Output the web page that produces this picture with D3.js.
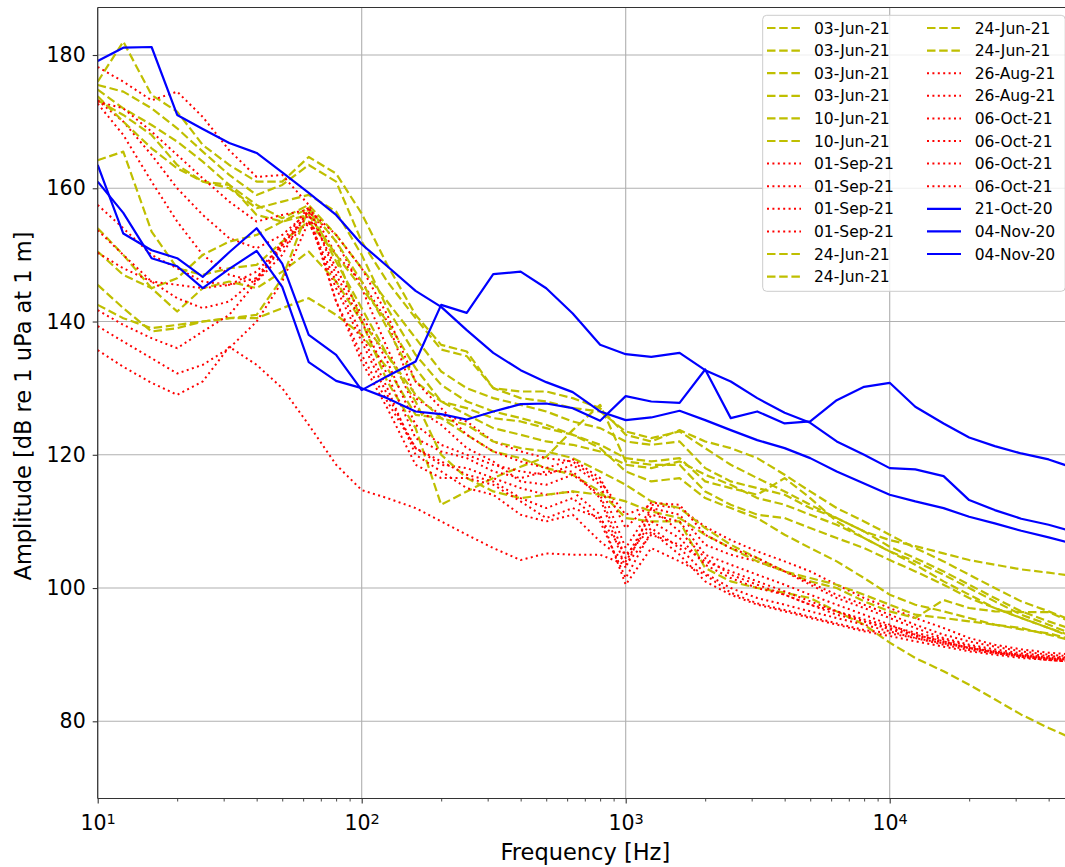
<!DOCTYPE html>
<html>
<head>
<meta charset="utf-8">
<script src="https://cdn.jsdelivr.net/npm/d3@7"></script>
<style>
  body { margin: 0; background: #fff; }
  svg { display: block; }
  text { font-family: "DejaVu Sans", sans-serif; fill: #000; }
</style>
</head>
<body>
<svg id="chart" width="1065" height="867"></svg>
<script>
// One-third-octave band centre frequencies [Hz]
const freqs = [10, 12.5, 16, 20, 25, 31.5, 40, 50, 63, 80, 100, 125, 160, 200, 250, 315, 400, 500, 630, 800,
  1000, 1250, 1600, 2000, 2500, 3150, 4000, 5000, 6300, 8000, 10000, 12500, 16000, 20000, 25000, 31500, 40000, 50000];

// Band levels, dB re 1 uPa at 1 m
const jun03a = [176.0,182.0,174.0,171.5,166.5,163.5,161.0,161.0,164.7,162.2,156.2,148.5,141.0,136.5,135.5,130.0,128.5,128.0,127.0,126.5,123.5,122.5,123.5,121.0,118.5,116.5,114.5,112.5,110.5,108.5,107.2,106.3,105.2,104.2,103.5,102.8,102.3,101.8];
const jun03b = [175.5,174.5,172.0,169.0,165.5,162.0,159.0,160.5,163.5,161.0,152.0,146.0,140.5,135.8,134.8,130.0,129.5,129.5,128.5,127.0,123.0,122.0,123.7,122.0,121.0,119.5,117.0,114.5,112.0,110.0,108.0,106.0,104.0,102.0,100.0,98.0,96.5,95.0];
const jun03c = [174.8,172.0,169.5,167.0,164.0,160.5,157.5,155.5,157.5,153.0,148.0,143.0,137.5,132.5,130.0,128.5,127.5,126.5,125.0,124.0,122.0,121.5,122.0,118.0,116.0,115.0,114.0,112.0,110.5,108.5,106.2,104.5,102.5,100.5,98.5,96.5,95.0,93.7];
const jun03d = [173.2,171.0,168.0,163.5,161.0,160.0,157.0,158.0,159.0,156.5,150.0,142.0,135.0,130.5,128.0,126.5,125.5,124.5,123.0,121.5,119.5,119.0,119.5,116.0,115.0,114.0,116.5,113.5,110.0,107.5,105.5,104.0,102.0,100.0,98.0,96.0,94.5,93.0];
const jun10a = [164.2,165.5,153.5,148.0,147.0,148.0,148.5,152.0,155.0,150.0,140.0,131.0,124.0,112.5,114.5,116.5,118.2,119.7,123.7,127.5,119.0,118.5,118.5,114.5,112.5,111.0,110.5,109.0,107.5,106.0,104.2,102.5,100.5,98.5,97.0,95.5,94.0,92.5];
const jun10b = [145.5,142.0,138.5,139.0,140.0,140.5,140.5,142.0,143.5,141.0,138.0,133.0,126.0,125.5,123.0,120.5,119.5,118.0,117.0,114.5,110.5,110.0,110.0,103.0,101.0,100.0,99.3,98.5,96.5,94.5,91.8,89.5,87.5,85.5,83.3,81.0,79.0,77.3];
const sep01a = [178.2,176.0,173.2,174.5,170.7,165.7,161.7,162.0,157.5,150.0,146.0,140.0,128.5,126.0,125.0,122.0,120.5,119.5,119.0,116.0,111.0,112.5,112.0,109.2,107.2,105.5,104.0,102.5,100.5,98.5,97.0,95.5,94.0,92.5,91.5,90.8,90.3,90.0];
const sep01b = [173.2,170.0,165.0,160.0,156.0,152.5,151.0,153.0,156.5,148.0,141.0,134.0,124.5,121.5,120.0,118.5,117.5,117.0,118.5,115.5,106.0,112.0,111.0,106.5,105.0,104.0,102.5,100.5,98.5,97.0,95.5,94.0,92.5,91.5,90.8,90.2,89.8,89.5];
const sep01c = [172.7,168.0,161.0,155.0,150.0,147.0,146.0,150.0,157.0,152.0,145.0,136.0,127.0,124.5,121.0,119.0,116.0,115.5,117.0,114.0,104.5,111.0,110.0,105.0,103.5,102.0,100.5,99.0,97.5,96.0,94.5,93.0,92.0,91.0,90.3,89.8,89.4,89.2];
const sep01d = [157.5,154.0,150.0,148.0,146.0,145.5,146.5,151.0,155.0,145.0,137.0,129.0,121.0,118.5,118.0,116.5,115.0,114.0,114.5,111.0,100.5,106.0,104.0,102.0,99.3,97.7,96.7,95.7,94.7,93.7,93.2,92.5,91.5,90.7,90.2,89.7,89.2,89.0];
const jun24a = [154.0,150.0,145.0,141.5,145.0,146.0,145.0,147.5,150.5,146.0,140.0,135.0,129.0,125.5,124.5,122.0,121.0,120.5,119.5,117.5,115.5,113.0,112.0,109.0,106.5,104.5,102.5,101.0,100.0,98.0,96.5,95.5,98.2,97.0,96.5,96.4,96.4,94.7];
const jun24b = [150.5,147.0,145.0,146.5,150.0,152.0,153.0,155.0,157.0,152.0,146.0,139.0,131.0,128.0,127.0,125.5,125.0,124.0,123.0,121.0,117.5,116.0,116.5,113.5,112.0,110.5,108.0,106.0,104.0,101.5,99.0,97.5,96.5,95.5,94.5,93.8,93.2,92.2];
const jun24c = [173.8,170.0,166.0,163.0,161.0,160.5,156.0,155.0,156.0,150.0,145.0,140.0,133.0,128.0,126.0,124.0,123.0,122.0,121.5,120.5,118.5,118.0,119.0,117.0,115.5,113.5,112.5,111.0,109.5,107.5,105.5,103.5,101.0,99.0,97.0,95.5,94.0,92.7];
const jun24d = [142.5,140.5,139.0,139.5,140.0,140.5,141.0,146.5,157.0,149.0,142.0,135.0,128.0,120.0,116.5,114.5,113.5,114.0,114.5,114.0,113.0,111.5,110.5,108.0,106.0,104.0,102.5,101.5,100.5,99.0,97.5,96.0,95.5,95.0,94.5,94.0,93.0,92.0];
const aug26a = [153.7,150.0,146.0,143.5,142.0,143.0,146.5,152.0,157.2,147.0,140.0,132.0,122.5,120.5,119.5,117.5,116.5,117.5,117.5,113.5,103.0,112.0,108.5,104.5,102.0,100.5,99.0,97.5,96.0,95.0,94.0,93.0,92.0,91.0,90.3,89.7,89.2,88.9];
const aug26b = [150.3,148.0,146.0,145.5,145.0,145.5,147.5,151.5,156.0,143.0,135.0,128.0,121.0,119.0,117.0,116.0,113.5,112.0,113.5,110.0,101.5,108.5,105.0,101.0,99.0,97.5,96.5,95.5,94.5,93.5,92.8,92.0,91.2,90.5,90.0,89.5,89.2,88.9];
const oct06a = [135.7,133.2,130.8,129.0,131.0,136.2,133.5,130.0,124.5,118.5,114.7,113.5,112.0,110.0,108.0,106.0,104.2,105.2,105.0,105.0,103.5,108.0,106.5,104.0,102.5,101.0,99.5,98.0,96.5,95.0,93.8,92.8,91.8,91.0,90.3,89.8,89.4,89.1];
const oct06b = [141.7,139.5,137.5,136.0,138.5,141.0,146.0,151.5,156.5,143.0,134.0,127.0,118.5,116.5,116.5,115.5,113.0,110.5,112.0,110.5,105.0,109.0,106.0,102.2,100.0,98.5,97.5,96.5,95.5,94.5,93.5,92.5,91.7,91.0,90.5,90.0,89.6,89.4];
const oct06c = [139.3,137.0,134.5,132.2,133.5,136.0,140.0,146.0,155.0,146.0,138.0,130.0,120.0,117.5,115.0,114.0,111.0,110.0,111.0,107.0,104.0,110.0,107.5,103.5,101.5,100.0,99.0,97.5,96.5,95.3,94.3,93.3,92.3,91.3,90.5,89.9,89.5,89.2];
const oct06d = [173.0,172.0,168.5,165.0,161.5,158.0,155.0,156.0,156.8,153.0,148.0,141.0,131.0,127.0,123.0,120.5,119.0,118.0,119.3,116.5,109.0,112.8,112.5,108.0,106.0,104.5,102.5,100.8,99.0,97.5,96.0,94.5,93.0,92.0,91.2,90.5,90.0,89.7];
const oct21 = [179.1,181.1,181.2,171.0,168.9,166.8,165.3,162.4,159.3,156.0,151.6,148.3,144.6,142.2,138.7,135.3,132.7,130.9,129.4,126.5,125.2,125.6,126.6,125.2,123.7,122.2,121.0,119.5,117.5,115.7,114.0,113.0,112.0,110.7,109.7,108.6,107.6,106.6];
const nov04a = [163.5,153.2,150.7,149.5,146.7,150.4,154.0,148.7,138.0,135.0,129.7,131.8,134.0,142.5,141.3,147.1,147.5,145.0,141.2,136.5,135.1,134.7,135.3,132.7,131.0,128.5,126.3,124.8,122.0,120.0,118.0,117.8,116.8,113.2,111.7,110.4,109.5,108.4];
const nov04b = [161.0,156.3,149.5,148.3,145.0,147.9,150.6,145.2,133.9,131.1,130.0,128.5,126.5,126.1,125.3,126.5,127.6,127.7,127.0,125.1,128.8,128.0,127.8,132.8,125.5,126.5,124.7,125.0,128.2,130.2,130.8,127.2,124.7,122.6,121.3,120.2,119.3,118.0];

// Axis ticks
const yTicks = [80, 100, 120, 140, 160, 180];
const xMajor = [10, 100, 1000, 10000];

// Recording sessions, in plotting / legend order
const series = [
  { label: "03-Jun-21", style: "dashed", values: jun03a },
  { label: "03-Jun-21", style: "dashed", values: jun03b },
  { label: "03-Jun-21", style: "dashed", values: jun03c },
  { label: "03-Jun-21", style: "dashed", values: jun03d },
  { label: "10-Jun-21", style: "dashed", values: jun10a },
  { label: "10-Jun-21", style: "dashed", values: jun10b },
  { label: "01-Sep-21", style: "dotted", values: sep01a },
  { label: "01-Sep-21", style: "dotted", values: sep01b },
  { label: "01-Sep-21", style: "dotted", values: sep01c },
  { label: "01-Sep-21", style: "dotted", values: sep01d },
  { label: "24-Jun-21", style: "dashed", values: jun24a },
  { label: "24-Jun-21", style: "dashed", values: jun24b },
  { label: "24-Jun-21", style: "dashed", values: jun24c },
  { label: "24-Jun-21", style: "dashed", values: jun24d },
  { label: "26-Aug-21", style: "dotted", values: aug26a },
  { label: "26-Aug-21", style: "dotted", values: aug26b },
  { label: "06-Oct-21", style: "dotted", values: oct06a },
  { label: "06-Oct-21", style: "dotted", values: oct06b },
  { label: "06-Oct-21", style: "dotted", values: oct06c },
  { label: "06-Oct-21", style: "dotted", values: oct06d },
  { label: "21-Oct-20", style: "solid", values: oct21 },
  { label: "04-Nov-20", style: "solid", values: nov04a },
  { label: "04-Nov-20", style: "solid", values: nov04b }
];

const lineStyles = {
  dashed: { color: "#bfbf00", width: 2.2, dash: "8.5,3.7" },
  dotted: { color: "#ff0000", width: 2.0, dash: "2,3.4" },
  solid:  { color: "#0000ff", width: 2.2, dash: null }
};

const svg = d3.select("#chart");
const plot = { left: 97.7, right: 1073, top: 7.5, bottom: 798.5 };

const x = d3.scaleLog().domain([10, 10000]).range([plot.left, 889.7]);
const y = d3.scaleLinear().domain([80, 180]).range([721.3, 55]);

svg.append("rect").attr("width", 1065).attr("height", 867).attr("fill", "#fff");

svg.append("defs").append("clipPath").attr("id", "plotClip")
  .append("rect")
  .attr("x", plot.left).attr("y", plot.top)
  .attr("width", plot.right - plot.left).attr("height", plot.bottom - plot.top);

// Grid
const grid = svg.append("g").attr("stroke", "#b0b0b0").attr("stroke-width", 1.1);
grid.selectAll("line.hy").data(yTicks).join("line")
  .attr("x1", plot.left).attr("x2", plot.right)
  .attr("y1", d => y(d)).attr("y2", d => y(d));
grid.selectAll("line.vx").data(xMajor).join("line")
  .attr("x1", d => x(d)).attr("x2", d => x(d))
  .attr("y1", plot.top).attr("y2", plot.bottom);

// Spectra
const line = d3.line().x((d, i) => x(freqs[i])).y(d => y(d));
const lines = svg.append("g").attr("clip-path", "url(#plotClip)");
series.forEach(s => {
  const st = lineStyles[s.style];
  lines.append("path")
    .attr("d", line(s.values))
    .attr("fill", "none")
    .attr("stroke", st.color)
    .attr("stroke-width", st.width)
    .attr("stroke-dasharray", st.dash)
    .attr("stroke-linejoin", "round")
    .attr("stroke-linecap", "butt");
});

// Axes
const yAxis = d3.axisLeft(y).tickValues(yTicks).tickSize(5).tickPadding(7).tickFormat(d3.format("d"));
const gy = svg.append("g").attr("transform", `translate(${plot.left},0)`).call(yAxis);
gy.select(".domain").remove();
gy.selectAll(".tick line").attr("stroke", "#333").attr("stroke-width", 1.1);
gy.selectAll(".tick text").attr("font-size", "20.5px").attr("fill", "#1a1a1a");

const xMinor = [];
xMajor.forEach(dec => { for (let k = 2; k <= 9; k++) { const v = dec * k; if (x(v) <= plot.right) xMinor.push(v); } });

const gxMinor = svg.append("g").attr("transform", `translate(0,${plot.bottom})`)
  .call(d3.axisBottom(x).tickValues(xMinor).tickSize(3).tickFormat(""));
gxMinor.select(".domain").remove();
gxMinor.selectAll(".tick line").attr("stroke", "#333").attr("stroke-width", 0.9);

const gx = svg.append("g").attr("transform", `translate(0,${plot.bottom})`)
  .call(d3.axisBottom(x).tickValues(xMajor).tickSize(5).tickPadding(12).tickFormat(""));
gx.select(".domain").remove();
gx.selectAll(".tick line").attr("stroke", "#333").attr("stroke-width", 1.1);
gx.selectAll(".tick text").each(function (d) {
  const t = d3.select(this).attr("font-size", "20.5px").attr("fill", "#1a1a1a");
  t.append("tspan").text("10");
  t.append("tspan").attr("dy", "-0.42em").attr("font-size", "14.5px").text(Math.round(Math.log10(d)));
});

// Spines
const spines = svg.append("g").attr("stroke", "#333").attr("stroke-width", 1.2).attr("fill", "none");
spines.append("line").attr("x1", plot.left).attr("x2", plot.left).attr("y1", plot.top).attr("y2", plot.bottom);
spines.append("line").attr("x1", plot.left).attr("x2", plot.right).attr("y1", plot.bottom).attr("y2", plot.bottom);
spines.append("line").attr("x1", plot.left).attr("x2", plot.right).attr("y1", plot.top).attr("y2", plot.top);
spines.append("line").attr("x1", plot.right).attr("x2", plot.right).attr("y1", plot.top).attr("y2", plot.bottom);

// Axis labels
svg.append("text")
  .attr("x", (plot.left + plot.right) / 2).attr("y", 860)
  .attr("text-anchor", "middle").attr("font-size", "22.5px").attr("fill", "#1a1a1a")
  .text("Frequency [Hz]");
svg.append("text")
  .attr("transform", "translate(31,406) rotate(-90)")
  .attr("text-anchor", "middle").attr("font-size", "22.5px").attr("fill", "#1a1a1a")
  .text("Amplitude [dB re 1 uPa at 1 m]");

// Legend (two columns, filled column-wise)
const legend = svg.append("g");
legend.append("rect")
  .attr("x", 762.7).attr("y", 15.3).attr("width", 302.5).attr("height", 276)
  .attr("rx", 4).attr("ry", 4)
  .attr("fill", "#fff").attr("fill-opacity", 0.8)
  .attr("stroke", "#cccccc").attr("stroke-width", 1);
const perCol = Math.ceil(series.length / 2);
const colHandle = [767, 927];
const colText = [814, 974.7];
series.forEach((s, i) => {
  const col = Math.floor(i / perCol), row = i % perCol;
  const cy = 28 + row * 22.6;
  const st = lineStyles[s.style];
  legend.append("line")
    .attr("x1", colHandle[col]).attr("x2", colHandle[col] + 34)
    .attr("y1", cy).attr("y2", cy)
    .attr("stroke", st.color).attr("stroke-width", st.width)
    .attr("stroke-dasharray", st.dash);
  legend.append("text")
    .attr("x", colText[col]).attr("y", cy + 5.6)
    .attr("font-size", "15.5px").attr("fill", "#1a1a1a")
    .text(s.label);
});
</script>
</body>
</html>
